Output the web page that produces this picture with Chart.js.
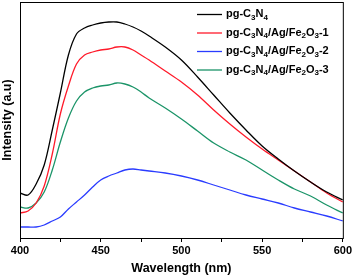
<!DOCTYPE html>
<html>
<head>
<meta charset="utf-8">
<script src="https://cdn.jsdelivr.net/npm/chart.js@4/dist/chart.umd.min.js"></script>
<style>
  html, body { margin: 0; padding: 0; background: #fff; }
  canvas { display: block; }
</style>
</head>
<body>
<canvas id="chartCanvas" width="354" height="276"></canvas>
<script>
// wavelength (nm)
const wavelengths = [400, 405, 410, 415, 420, 425, 430, 435, 440, 445, 450, 455, 460, 465, 470, 475, 480,
  490, 500, 510, 520, 530, 540, 550, 560, 570, 580, 590, 600];

// PL intensity (a.u.)
const pgC3N4 = [45, 43, 54, 73, 108, 145, 183, 204, 210, 213, 215, 216, 216, 214, 211, 207, 202,
  191, 178, 161, 143, 125, 108, 92, 79, 67, 56, 46, 38];
const sample1 = [25, 27, 35, 52, 84, 124, 152, 174, 183, 186, 188, 189, 191, 191, 188, 183, 178,
  167, 156, 143, 128, 114, 101, 89, 78, 67, 56, 45, 36];
const sample2 = [11, 11, 11, 13, 17, 21, 29, 36, 43, 51, 58, 62, 65, 68, 69, 68, 67,
  65, 62, 58, 53, 48, 43, 39, 35, 30, 26, 22, 17];
const sample3 = [31, 30, 35, 46, 68, 96, 120, 137, 146, 150, 152, 153, 155, 154, 151, 146, 140,
  130, 119, 107, 95, 86, 78, 68, 58, 49, 42, 33, 25];

// "_" marks the next digit as a subscript
const seriesLabels = ["pg-C_3N_4", "pg-C_3N_4/Ag/Fe_2O_3-1", "pg-C_3N_4/Ag/Fe_2O_3-2", "pg-C_3N_4/Ag/Fe_2O_3-3"];
const seriesColors = ["#000000", "#ff1a2a", "#2a3cff", "#1b9468"];
const seriesData = [pgC3N4, sample1, sample2, sample3];

const FONT = "'Liberation Sans', Arial, sans-serif";

function toPoints(values) {
  return values.map((v, i) => ({ x: wavelengths[i], y: v }));
}

const frame = {
  id: "frame",
  afterDraw(chart) {
    const { ctx, chartArea: a } = chart;
    ctx.save();
    ctx.strokeStyle = "#000";
    ctx.lineWidth = 1;
    ctx.strokeRect(a.left + 0.5, a.top + 0.5, a.right - a.left, a.bottom - a.top);
    ctx.restore();
  }
};

// legend drawn inside the plot so the subscripts come out right
const subLegend = {
  id: "subLegend",
  afterDraw(chart) {
    const ctx = chart.ctx;
    const x0 = 197, lineLen = 25, gap = 4, y0 = 14, rowH = 18.5;
    ctx.save();
    chart.data.datasets.forEach((ds, i) => {
      const y = y0 + i * rowH;
      ctx.strokeStyle = ds.borderColor;
      ctx.lineWidth = 1.3;
      ctx.beginPath();
      ctx.moveTo(x0, y + 0.5);
      ctx.lineTo(x0 + lineLen, y + 0.5);
      ctx.stroke();

      let x = x0 + lineLen + gap;
      ctx.fillStyle = "#000";
      ctx.textBaseline = "middle";
      const text = seriesLabels[i];
      for (let k = 0; k < text.length; k++) {
        let ch = text[k];
        if (ch === "_") {
          ch = text[++k];
          ctx.font = "bold 8px " + FONT;
          ctx.fillText(ch, x, y + 3.5);
        } else {
          ctx.font = "bold 11px " + FONT;
          ctx.fillText(ch, x, y);
        }
        x += ctx.measureText(ch).width;
      }
    });
    ctx.restore();
  }
};

const ctx = document.getElementById("chartCanvas").getContext("2d");
new Chart(ctx, {
  type: "line",
  data: {
    datasets: seriesData.map((vals, i) => ({
      label: seriesLabels[i].replace(/_/g, ""),
      data: toPoints(vals),
      borderColor: seriesColors[i],
      backgroundColor: seriesColors[i],
      borderWidth: 1.3,
      pointRadius: 0,
      tension: 0.35,
      fill: false
    }))
  },
  options: {
    responsive: false,
    animation: false,
    layout: { padding: { top: 2, right: 10, left: 0, bottom: 0 } },
    plugins: {
      legend: { display: false },
      tooltip: { enabled: false }
    },
    scales: {
      x: {
        type: "linear",
        min: 400,
        max: 600,
        afterFit(s) { s.height = 38; },
        ticks: {
          stepSize: 25,
          autoSkip: false,
          maxRotation: 0,
          padding: 2,
          color: "#000",
          font: { family: FONT, size: 11, weight: "bold" },
          callback: v => (v % 50 === 0 ? v : "")
        },
        grid: { display: true, drawOnChartArea: false, drawTicks: true, tickLength: 4, color: "#000" },
        border: { display: true, color: "#000", width: 1 },
        title: {
          display: true,
          text: "Wavelength (nm)",
          color: "#000",
          padding: 0,
          font: { family: FONT, size: 12.5, weight: "bold" }
        }
      },
      y: {
        min: 0,
        max: 236,
        afterFit(s) { s.width = 20; },
        ticks: { display: false },
        grid: { display: false },
        border: { display: true, color: "#000", width: 1 },
        title: {
          display: true,
          text: "Intensity (a.u)",
          color: "#000",
          padding: 0,
          font: { family: FONT, size: 12.5, weight: "bold" }
        }
      }
    }
  },
  plugins: [frame, subLegend]
});
</script>
</body>
</html>
